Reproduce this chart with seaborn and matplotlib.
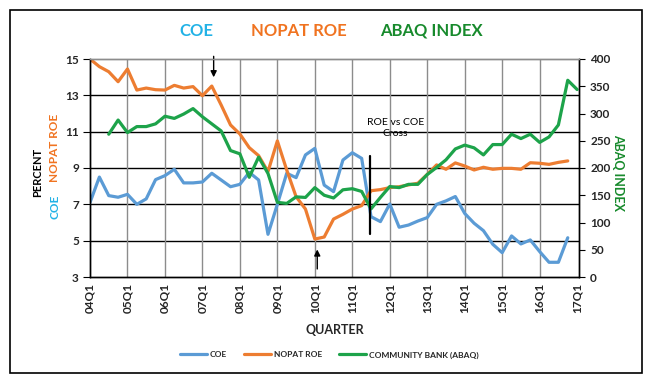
import numpy as np
import pandas as pd
import matplotlib
matplotlib.use("Agg")
import matplotlib.pyplot as plt
import seaborn as sns
from matplotlib.patches import Rectangle

nan = np.nan
quarters = [f"{y:02d}Q{q}" for y in range(4, 18) for q in range(1, 5)][:53]

coe = [7.1, 8.5, 7.48, 7.39, 7.55, 7.0, 7.3, 8.36, 8.58, 8.93, 8.18, 8.18, 8.23, 8.71,
       8.34, 7.97, 8.1, 8.76, 8.34, 5.35, 7.0, 8.71, 8.47, 9.72, 10.08, 8.06, 7.7,
       9.44, 9.84, 9.53, 6.32, 6.05, 7.02, 5.74, 5.86, 6.08, 6.27, 7.0, 7.19, 7.43,
       6.5, 5.96, 5.55, 4.8, 4.34, 5.26, 4.82, 5.04, 4.4, 3.81, 3.81, 5.16, nan]
nopat_roe = [15.0, 14.58, 14.3, 13.75, 14.45, 13.29, 13.4, 13.31, 13.29, 13.55, 13.4, 13.48,
             12.98, 13.51, 12.47, 11.37, 10.87, 10.12, 9.68, 8.8, 10.49, 8.89, 7.42, 6.74,
             5.09, 5.2, 6.19, 6.45, 6.74, 6.93, 7.75, 7.81, 7.92, 7.97, 8.07, 8.16, 8.65,
             9.17, 8.93, 9.28, 9.11, 8.89, 9.04, 8.93, 8.98, 8.98, 8.93, 9.29, 9.26, 9.2,
             9.31, 9.39, nan]
abaq = [nan, nan, 262, 288, 265, 276, 276, 281, 295, 291, 299, 309, 294, 281, 268, 232,
        226, 183, 220, 190, 137, 135, 147, 146, 164, 150, 145, 160, 162, 157, 125, 146,
        166, 164, 170, 170, 188, 201, 215, 235, 242, 237, 224, 243, 243, 262, 254, 262,
        247, 257, 279, 361, 344]

left_ticks = [3, 5, 7, 9, 11, 13, 15]
right_ticks = [0, 50, 100, 150, 200, 250, 300, 350, 400]

df = pd.DataFrame({"idx": np.arange(len(quarters)), "quarter": quarters,
                   "COE": coe, "NOPAT ROE": nopat_roe, "ABAQ": abaq})

C_BLUE = "#5B9BD5"
C_ORANGE = "#ED7D31"
C_GREEN = "#1DA34A"
T_CYAN = "#22B2E6"
T_ORANGE = "#F07320"
T_GREEN = "#178A2C"

sns.set_style("white")
plt.rcParams["font.family"] = ["Lato", "DejaVu Sans"]

fig = plt.figure(figsize=(6.52, 3.83), dpi=100)
ax = fig.add_axes([90 / 652, 1 - 277 / 383, 489 / 652, 218 / 383])

sns.lineplot(data=df, x="idx", y="COE", ax=ax, color=C_BLUE, lw=2.3, label="COE", legend=False)
sns.lineplot(data=df, x="idx", y="NOPAT ROE", ax=ax, color=C_ORANGE, lw=2.3, label="NOPAT ROE", legend=False)
ax2 = ax.twinx()
sns.lineplot(data=df, x="idx", y="ABAQ", ax=ax2, color=C_GREEN, lw=2.3,
             label="COMMUNITY BANK (ABAQ)", legend=False)

ax.set_xlim(0, 52.2)
ax.set_ylim(3, 15)
ax2.set_ylim(0, 400)
ax.set_yticks(left_ticks)
ax2.set_yticks(right_ticks)
year_idx = list(range(0, 53, 4))
ax.set_xticks(year_idx)
ax.set_xticklabels([quarters[i] for i in year_idx], rotation=90, fontsize=8.5, fontweight="bold")
ax.set_yticklabels([str(t) for t in left_ticks], fontsize=8.5, fontweight="bold")
ax2.set_yticklabels([str(t) for t in right_ticks], fontsize=8.5, fontweight="bold")

ax.tick_params(axis="y", which="both", length=5, width=0.8, color="black", left=True, pad=3)
ax.tick_params(axis="x", length=0, pad=4)
ax2.tick_params(axis="y", length=4, width=0.8, color="black", right=True, pad=4)

# grids
for v in left_ticks[1:-1]:
    ax.axhline(v, color="black", lw=1.0, zorder=0.5)
for i in year_idx[1:-1]:
    ax.axvline(i, color="#8C8C8C", lw=1.0, zorder=0.5)

for a in (ax, ax2):
    for s in a.spines.values():
        s.set_color("black")
        s.set_linewidth(1.0)
    a.spines["top"].set_color("#8C8C8C")
ax.set_xlabel("QUARTER", fontsize=9, fontweight="bold", labelpad=8)
ax.set_ylabel("")
ax2.set_ylabel("")

# y labels
fig.text(38 / 652, 1 - 172 / 383, "PERCENT", rotation=90, ha="center", va="center",
         fontsize=8, fontweight="bold", color="black")
fig.text(55 / 652, 1 - 207 / 383, "COE", rotation=90, ha="center", va="center",
         fontsize=8.5, fontweight="bold", color=T_CYAN)
fig.text(55 / 652, 1 - 148 / 383, "NOPAT ROE", rotation=90, ha="center", va="center",
         fontsize=8.5, fontweight="bold", color=T_ORANGE)
fig.text(618 / 652, 1 - 172 / 383, "ABAQ INDEX", rotation=-90, ha="center", va="center",
         fontsize=9, fontweight="bold", color=T_GREEN)

# title
fig.text(196 / 652, 1 - 31 / 383, "COE", ha="center", va="center", fontsize=12,
         fontweight="bold", color=T_CYAN)
fig.text(299 / 652, 1 - 31 / 383, "NOPAT ROE", ha="center", va="center", fontsize=12,
         fontweight="bold", color=T_ORANGE)
fig.text(431 / 652, 1 - 31 / 383, "ABAQ INDEX", ha="center", va="center", fontsize=12,
         fontweight="bold", color=T_GREEN)

# annotations
ax.annotate("", xy=(13.2, 13.84), xytext=(13.2, 15.3), annotation_clip=False,
            arrowprops=dict(arrowstyle="-|>", color="black", lw=1.0, mutation_scale=9))
ax.annotate("", xy=(24.26, 4.67), xytext=(24.26, 3.29), annotation_clip=False,
            arrowprops=dict(arrowstyle="-|>", color="black", lw=1.0, mutation_scale=9))
ax2.plot([29.9, 29.9], [(277 - 155.7) / 0.545, (277 - 234.3) / 0.545], color="black", lw=1.6, zorder=5)
ax.text(32.6, 11.2, "ROE vs COE\nCross", ha="center", va="center", fontsize=7.5,
        linespacing=1.3, color="black")

# legend
h1, l1 = ax.get_legend_handles_labels()
h2, l2 = ax2.get_legend_handles_labels()
fig.legend(h1 + h2, l1 + l2, loc="center", bbox_to_anchor=(329 / 652, 1 - 355 / 383), ncol=3,
           frameon=False, prop={"size": 6, "weight": "bold"}, handlelength=3.3,
           columnspacing=2.0, handletextpad=0.3)

# outer border
fig.patches.append(Rectangle((10 / 652, 10 / 383), 632 / 652, 363 / 383, transform=fig.transFigure,
                             fill=False, edgecolor="black", lw=1.2))

fig.savefig("out.png", dpi=100)
